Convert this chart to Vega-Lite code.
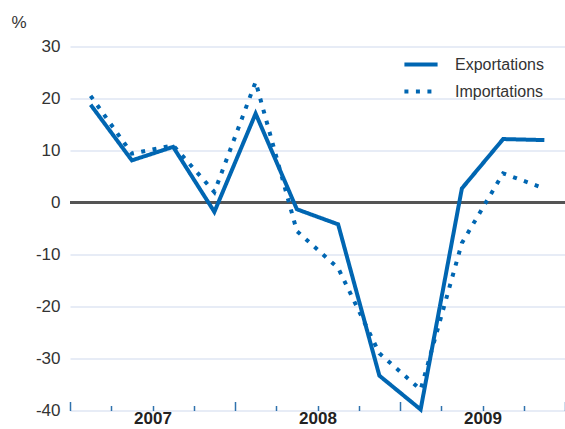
{
  "$schema": "https://vega.github.io/schema/vega-lite/v6.json",
  "width": 495,
  "height": 364,
  "autosize": "none",
  "padding": {"left": 70, "top": 46.5, "right": 0, "bottom": 18},
  "background": "white",
  "config": {
    "view": {"stroke": null},
    "font": "Liberation Sans"
  },
  "data": {
    "values": [
      {"t": 2007.125, "series": "Exportations", "v": 18.8},
      {"t": 2007.375, "series": "Exportations", "v": 8.1},
      {"t": 2007.625, "series": "Exportations", "v": 10.7},
      {"t": 2007.875, "series": "Exportations", "v": -1.8},
      {"t": 2008.125, "series": "Exportations", "v": 17.1},
      {"t": 2008.375, "series": "Exportations", "v": -1.3},
      {"t": 2008.625, "series": "Exportations", "v": -4.2},
      {"t": 2008.875, "series": "Exportations", "v": -33.3},
      {"t": 2009.125, "series": "Exportations", "v": -39.8},
      {"t": 2009.375, "series": "Exportations", "v": 2.7},
      {"t": 2009.625, "series": "Exportations", "v": 12.2},
      {"t": 2009.875, "series": "Exportations", "v": 12.0},
      {"t": 2007.125, "series": "Importations", "v": 20.5},
      {"t": 2007.375, "series": "Importations", "v": 9.4},
      {"t": 2007.625, "series": "Importations", "v": 11.0},
      {"t": 2007.875, "series": "Importations", "v": 2.0},
      {"t": 2008.125, "series": "Importations", "v": 23.2},
      {"t": 2008.375, "series": "Importations", "v": -5.5},
      {"t": 2008.625, "series": "Importations", "v": -12.6},
      {"t": 2008.875, "series": "Importations", "v": -29.0},
      {"t": 2009.125, "series": "Importations", "v": -36.0},
      {"t": 2009.375, "series": "Importations", "v": -7.8},
      {"t": 2009.625, "series": "Importations", "v": 5.6},
      {"t": 2009.875, "series": "Importations", "v": 2.7}
    ]
  },
  "layer": [
    {
      "mark": {"type": "rule", "color": "#555555", "strokeWidth": 2},
      "encoding": {
        "y": {"datum": 0, "type": "quantitative", "scale": {"domain": [-40, 30]}}
      }
    },
    {
      "mark": {"type": "line", "strokeWidth": 4, "color": "#0066b2", "strokeCap": "butt", "strokeJoin": "miter", "clip": false},
      "encoding": {
        "x": {
          "field": "t",
          "type": "quantitative",
          "scale": {"domain": [2007, 2010], "nice": false, "zero": false},
          "axis": {
            "title": null,
            "values": [2007, 2007.25, 2007.5, 2007.75, 2008, 2008.25, 2008.5, 2008.75, 2009, 2009.25, 2009.5, 2009.75, 2010],
            "grid": false,
            "domain": false,
            "tickColor": "#2f72ad",
            "tickWidth": 1.5,
            "tickSize": {"condition": {"test": "datum.value % 1 == 0", "value": -9}, "value": -5},
            "labelExpr": "datum.value % 1 == 0.5 ? '' + floor(datum.value) : ''",
            "labelOverlap": false,
            "labelFlush": false,
            "labelFont": "Liberation Sans",
            "labelFontSize": 17,
            "labelFontWeight": "bold",
            "labelColor": "#222222",
            "labelPadding": 5
          }
        },
        "y": {
          "field": "v",
          "type": "quantitative",
          "scale": {"domain": [-40, 30], "nice": false},
          "axis": {
            "values": [-40, -30, -20, -10, 0, 10, 20, 30],
            "labelExpr": "'' + datum.value",
            "title": "%",
            "titleAngle": 0,
            "titleAlign": "left",
            "titleBaseline": "alphabetic",
            "titleX": -59,
            "titleY": -19.5,
            "titleFont": "Liberation Sans",
            "titleFontSize": 17,
            "titleFontWeight": "normal",
            "titleColor": "#333333",
            "domain": false,
            "ticks": false,
            "tickSize": 0,
            "labelPadding": 10,
            "labelFont": "Liberation Sans",
            "labelFontSize": 17,
            "labelColor": "#333333",
            "grid": true,
            "gridColor": "#cfdaee",
            "gridWidth": 1.2
          }
        },
        "strokeDash": {
          "field": "series",
          "type": "nominal",
          "scale": {"domain": ["Exportations", "Importations"], "range": [[1, 0], [4, 7.5]]},
          "legend": {
            "orient": "none",
            "legendX": 332,
            "legendY": -1,
            "title": null,
            "symbolType": "stroke",
            "symbolSize": 1100,
            "symbolStrokeWidth": 4,
            "symbolStrokeColor": "#0066b2",
            "labelFont": "Liberation Sans",
            "labelFontSize": 16,
            "labelColor": "#333333",
            "labelOffset": 15,
            "rowPadding": -3
          }
        },
        "detail": {"field": "series"}
      }
    }
  ]
}
